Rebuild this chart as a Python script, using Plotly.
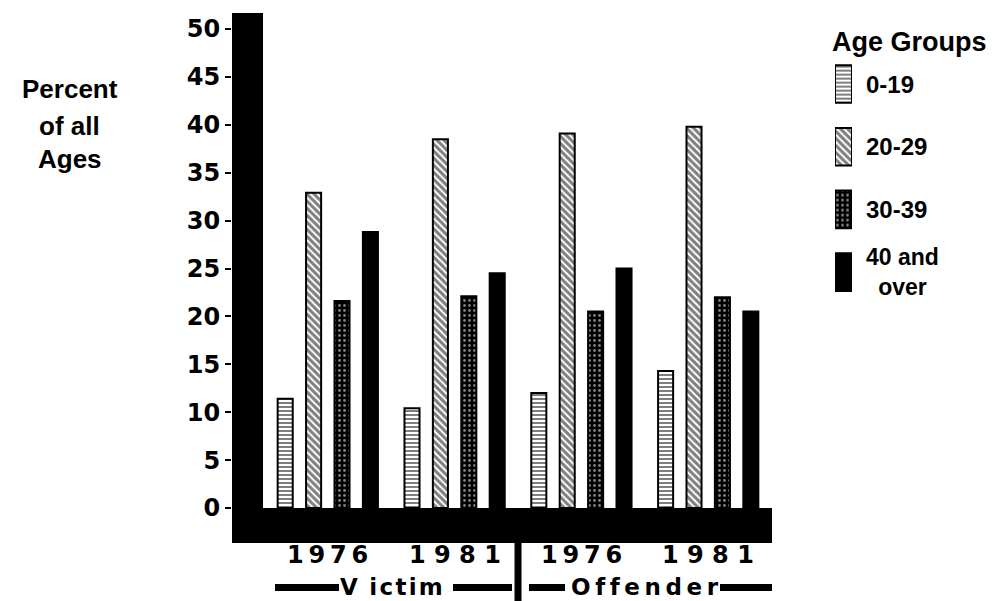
import plotly.graph_objects as go

# ---------------- data ----------------
groups = ["Victim 1976", "Victim 1981", "Offender 1976", "Offender 1981"]
year_labels = ["1\u20099\u20097\u20096", "1 9 8 1", "1\u20099\u20097\u20096", "1 9 8 1"]
roles = ["V\u2002i\u200ac\u200at\u200ai\u200am", "O\u2009f\u2009f\u2009e\u2009n\u2009d\u2009e\u2009r"]
age_groups = ["0-19", "20-29", "30-39", "40 and over"]
legend_labels = ["0-19", "20-29", "30-39", "40 and<br>over"]
pct_0_19 = [11.4, 10.4, 12.0, 14.3]
pct_20_29 = [32.9, 38.5, 39.1, 39.8]
pct_30_39 = [21.6, 22.1, 20.5, 22.0]
pct_40_up = [28.8, 24.5, 25.0, 20.5]
y_ticks = [0, 5, 10, 15, 20, 25, 30, 35, 40, 45, 50]
y_title_lines = ["Percent", "of all", "Ages"]
legend_title = "Age Groups"

series = [pct_0_19, pct_20_29, pct_30_39, pct_40_up]

# ---------------- styling ----------------
OFF = 8                      # page body margin of the browser
FW, FH = 996 - OFF, 601 - OFF
FONT = "Liberation Sans, Arial, Helvetica, sans-serif"
DFONT = "DejaVu Sans, Liberation Sans, sans-serif"
BLACK = "#000000"


def px(x):
    return (x - OFF) / FW


def py(y):
    return 1 - (y - OFF) / FH


styles = [
    dict(color="white", pattern=dict(shape="-", fgcolor=BLACK, bgcolor="white", size=4, solidity=0.5)),
    dict(color="white", pattern=dict(shape="\\", fgcolor=BLACK, bgcolor="white", size=5, solidity=0.6)),
    dict(color=BLACK, pattern=dict(shape=".", fgcolor="white", bgcolor=BLACK, size=5, solidity=0.25)),
    dict(color=BLACK),
]

fig = go.Figure()

for name, vals, st in zip(age_groups, series, styles):
    fig.add_trace(go.Bar(
        x=groups, y=vals, name=name,
        marker=dict(line=dict(color=BLACK, width=2), **st),
        showlegend=False, hoverinfo="skip",
    ))

# legend swatches on their own small axes
for name, st in zip(age_groups, styles):
    fig.add_trace(go.Bar(
        y=[name], x=[1], orientation="h", xaxis="x2", yaxis="y2",
        width=0.6, offsetgroup="legend",
        marker=dict(line=dict(color=BLACK, width=2), **st),
        showlegend=False, hoverinfo="skip",
    ))

X_MIN, X_MAX = -0.7555, 3.503
Y_MIN, Y_MAX = -3.653, 51.67

shapes = [
    # thick vertical axis bar
    dict(type="rect", xref="x domain", yref="y domain", x0=0, x1=31 / 540, y0=0, y1=1,
         fillcolor=BLACK, line=dict(width=0), layer="above"),
    # thick baseline band
    dict(type="rect", xref="x domain", yref="y", x0=0, x1=1, y0=Y_MIN, y1=0,
         fillcolor=BLACK, line=dict(width=0), layer="above"),
    # separator between Victim and Offender
    dict(type="line", xref="x", yref="paper", x0=1.5, x1=1.5, y0=-0.02, y1=py(543),
         line=dict(color=BLACK, width=7)),
]
# dashes around Victim / Offender labels
for x0, x1 in [(275, 339), (453, 512), (529, 565), (720, 772)]:
    shapes.append(dict(type="rect", xref="paper", yref="paper",
                       x0=px(x0), x1=px(x1), y0=py(591), y1=py(584),
                       fillcolor=BLACK, line=dict(width=0)))

bold = dict(color=BLACK, weight="bold")
annotations = []
for i, lab in enumerate(year_labels):
    annotations.append(dict(x=i, xref="x", y=py(555), yref="paper", text=lab,
                            showarrow=False, xanchor="center", yanchor="middle",
                            font=dict(size=24, family=DFONT, **bold)))
for xi, lab in zip([0.5, 2.5], roles):
    annotations.append(dict(x=xi, xref="x", y=py(587), yref="paper", text=lab,
                            showarrow=False, xanchor="center", yanchor="middle",
                            font=dict(size=23, family=DFONT, **bold)))
for yy, lab in zip([89, 126, 159], y_title_lines):
    annotations.append(dict(x=px(70), xref="paper", y=py(yy), yref="paper", text=lab,
                            showarrow=False, xanchor="center", yanchor="middle",
                            font=dict(size=26, family=FONT, **bold)))
annotations.append(dict(x=px(909), xref="paper", y=py(42), yref="paper", text=legend_title,
                        showarrow=False, xanchor="center", yanchor="middle",
                        font=dict(size=27, family=FONT, **bold)))
for i, lab in enumerate(legend_labels):
    annotations.append(dict(x=px(864), xref="paper", y=i, yref="y2", text=lab,
                            showarrow=False, xanchor="left", yanchor="middle", align="center",
                            font=dict(size=24 if i < 3 else 23, family=FONT, **bold)))

fig.update_layout(
    width=FW, height=FH,
    margin=dict(l=0, r=0, t=0, b=0),
    paper_bgcolor="white", plot_bgcolor="white",
    barmode="group", bargap=0.104, bargroupgap=0.47,
    showlegend=False,
    xaxis=dict(domain=[px(232), px(772)], range=[X_MIN, X_MAX], showticklabels=False,
               ticks="", showgrid=False, zeroline=False, showline=False, fixedrange=True),
    yaxis=dict(domain=[py(543), py(13)], range=[Y_MIN, Y_MAX], tickvals=y_ticks,
               ticktext=[str(t) for t in y_ticks], ticks="outside", ticklen=6, tickwidth=2,
               tickcolor=BLACK, tickfont=dict(size=24, family=DFONT, **bold), showgrid=False,
               zeroline=False, showline=False),
    xaxis2=dict(domain=[px(835), px(852)], range=[0, 1], anchor="y2", visible=False),
    yaxis2=dict(domain=[py(303.45), py(52.65)], range=[3.5, -0.5], anchor="x2",
                type="category", categoryarray=age_groups, visible=False),
    shapes=shapes,
    annotations=annotations,
)

fig.write_html("out.html")
